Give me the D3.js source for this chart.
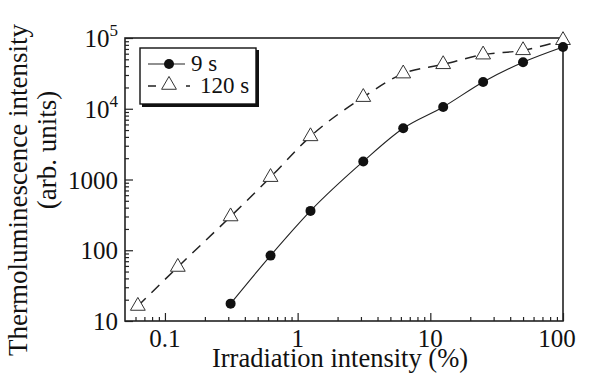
<!DOCTYPE html>
<html>
<head>
<meta charset="utf-8">
<script src="https://cdn.jsdelivr.net/npm/d3@7"></script>
<style>
  html, body { margin: 0; padding: 0; background: #fff; }
  svg { display: block; }
</style>
</head>
<body>
<div id="plot"></div>
<script>
// irradiation (%) and thermoluminescence intensity
const irr9 = [0.3125, 0.625, 1.25, 3.125, 6.25, 12.5, 25, 50, 100];
const tl9 = [17.6, 84, 360, 1800, 5300, 10600, 23900, 45400, 74600];
const irr120 = [0.0625, 0.125, 0.3125, 0.625, 1.25, 3.125, 6.25, 12.5, 25, 50, 100];
const tl120 = [16.3, 58, 300, 1080, 4070, 14600, 31400, 42500, 58200, 67000, 93000];

const xTickValues = [0.1, 1, 10, 100];
const xTickLabels = ['0.1', '1', '10', '100'];
const yTickValues = [10, 100, 1000, 1e4, 1e5];
const yTickLabels = [['10'], ['100'], ['1000'], ['10', '4'], ['10', '5']];

const seriesNames = ['9 s', '120 s'];

const serif = "'Liberation Serif', 'Times New Roman', Times, 'DejaVu Serif', serif";

const width = 589;
const height = 376;
const margin = {top: 38, right: 26, bottom: 55, left: 125};
const innerWidth = width - margin.left - margin.right;
const innerHeight = height - margin.top - margin.bottom;

const svg = d3.select('#plot')
    .append('svg')
    .attr('width', width)
    .attr('height', height)
    .style('font-family', serif);

const chart = svg.append('g')
    .attr('transform', `translate(${margin.left},${margin.top})`);

const x = d3.scaleLog().domain([0.05, 100]).range([0, innerWidth]);
const y = d3.scaleLog().domain([10, 1e5]).range([innerHeight, 0]);

// minor ticks = everything the log scale gives that isn't a decade
const xMinor = x.ticks().filter(v => !xTickValues.some(t => Math.abs(t - v) < 1e-9) && v > 0.05);
const yMinor = y.ticks().filter(v => !yTickValues.includes(v));

// inward ticks, left + bottom only
chart.append('g')
    .attr('transform', `translate(0,${innerHeight})`)
    .call(d3.axisBottom(x).tickValues(xMinor).tickSize(-4).tickFormat(''))
    .call(g => g.select('.domain').remove());
chart.append('g')
    .attr('transform', `translate(0,${innerHeight})`)
    .call(d3.axisBottom(x).tickValues(xTickValues).tickSize(-8).tickFormat(''))
    .call(g => g.select('.domain').remove());
chart.append('g')
    .call(d3.axisLeft(y).tickValues(yMinor).tickSize(-4).tickFormat(''))
    .call(g => g.select('.domain').remove());
chart.append('g')
    .call(d3.axisLeft(y).tickValues(yTickValues).tickSize(-8).tickFormat(''))
    .call(g => g.select('.domain').remove());

chart.selectAll('.tick line').attr('stroke', '#222').attr('stroke-width', 1.2);

// frame
chart.append('rect')
    .attr('width', innerWidth)
    .attr('height', innerHeight)
    .attr('fill', 'none')
    .attr('stroke', '#222')
    .attr('stroke-width', 1.6);

// tick labels
chart.selectAll('text.xlab')
    .data(xTickValues)
    .enter().append('text')
    .attr('class', 'xlab')
    .attr('x', d => x(d))
    .attr('dx', (d, i) => i === xTickValues.length - 1 ? -6 : 0)
    .attr('y', innerHeight + 26)
    .attr('text-anchor', 'middle')
    .attr('font-family', serif)
    .attr('font-size', '25px')
    .attr('fill', '#111')
    .text((d, i) => xTickLabels[i]);

const ylab = chart.selectAll('text.ylab')
    .data(yTickValues)
    .enter().append('text')
    .attr('class', 'ylab')
    .attr('x', -7)
    .attr('y', d => y(d) + 9)
    .attr('text-anchor', 'end')
    .attr('font-family', serif)
    .attr('font-size', '25px')
    .attr('fill', '#111');
ylab.each(function (d, i) {
    const parts = yTickLabels[i];
    const t = d3.select(this);
    t.append('tspan').text(parts[0]);
    if (parts[1]) {
        t.append('tspan').attr('font-size', '17px').attr('dy', -11).text(parts[1]);
    }
});

// axis titles
svg.append('text')
    .attr('x', 340)
    .attr('y', 367)
    .attr('text-anchor', 'middle')
    .attr('font-family', serif)
    .attr('font-size', '26.5px')
    .attr('fill', '#111')
    .text('Irradiation intensity (%)');

svg.append('text')
    .attr('transform', 'translate(27,190) rotate(-90)')
    .attr('text-anchor', 'middle')
    .attr('font-family', serif)
    .attr('font-size', '27px')
    .attr('fill', '#111')
    .text('Thermoluminescence intensity');
svg.append('text')
    .attr('transform', 'translate(56,150) rotate(-90)')
    .attr('text-anchor', 'middle')
    .attr('font-family', serif)
    .attr('font-size', '27px')
    .attr('fill', '#111')
    .text('(arb. units)');

// series
const pts9 = irr9.map((v, i) => [x(v), y(tl9[i])]);
const pts120 = irr120.map((v, i) => [x(v), y(tl120[i])]);

const line = d3.line().curve(d3.curveMonotoneX);

chart.append('path')
    .attr('d', line(pts120))
    .attr('fill', 'none')
    .attr('stroke', '#222')
    .attr('stroke-width', 1.5)
    .attr('stroke-dasharray', '11,8');

chart.append('path')
    .attr('d', line(pts9))
    .attr('fill', 'none')
    .attr('stroke', '#222')
    .attr('stroke-width', 1.1);

const tri = d3.symbol().type(d3.symbolTriangle).size(95);

chart.selectAll('path.tri')
    .data(pts120)
    .enter().append('path')
    .attr('class', 'tri')
    .attr('transform', d => `translate(${d[0]},${d[1]})`)
    .attr('d', tri)
    .attr('fill', '#fff')
    .attr('stroke', '#333')
    .attr('stroke-width', 1);

chart.selectAll('circle.dot')
    .data(pts9)
    .enter().append('circle')
    .attr('class', 'dot')
    .attr('cx', d => d[0])
    .attr('cy', d => d[1])
    .attr('r', 5)
    .attr('fill', '#111');

// legend box with the heavy bottom/right edge
const lg = svg.append('g').attr('transform', 'translate(140,48)');
lg.append('rect')
    .attr('x', 2).attr('y', 2)
    .attr('width', 117).attr('height', 57)
    .attr('fill', '#111');
lg.append('rect')
    .attr('width', 116).attr('height', 56)
    .attr('fill', '#fff')
    .attr('stroke', '#111')
    .attr('stroke-width', 1.4);

lg.append('line')
    .attr('x1', 8).attr('x2', 45).attr('y1', 16).attr('y2', 16)
    .attr('stroke', '#222').attr('stroke-width', 1.1);
lg.append('circle').attr('cx', 29).attr('cy', 16).attr('r', 5).attr('fill', '#111');
lg.append('text').attr('x', 51).attr('y', 23)
    .attr('font-family', serif).attr('font-size', '23px').attr('fill', '#111')
    .text(seriesNames[0]);

lg.append('line')
    .attr('x1', 8).attr('x2', 50).attr('y1', 38).attr('y2', 38)
    .attr('stroke', '#222').attr('stroke-width', 1.3)
    .attr('stroke-dasharray', '8,8,2,20');
lg.append('path')
    .attr('transform', 'translate(29,37)')
    .attr('d', tri)
    .attr('fill', '#fff')
    .attr('stroke', '#333')
    .attr('stroke-width', 1);
lg.append('text').attr('x', 60).attr('y', 45)
    .attr('font-family', serif).attr('font-size', '23px').attr('fill', '#111')
    .text(seriesNames[1]);
</script>
</body>
</html>
